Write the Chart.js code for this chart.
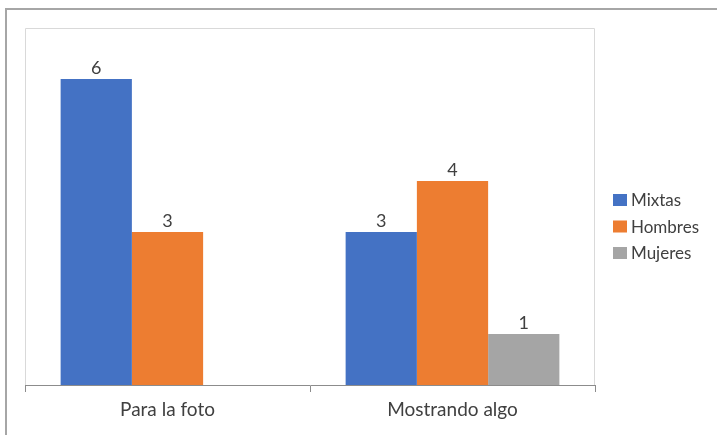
<!DOCTYPE html>
<html>
<head>
<meta charset="utf-8">
<script src="https://cdn.jsdelivr.net/npm/chart.js@4"></script>
<style>
  html, body { margin: 0; padding: 0; background: #fff; }
  #wrap { width: 717px; height: 435px; }
</style>
</head>
<body>
<div id="wrap"><canvas id="c" width="717" height="435"></canvas></div>
<script>
const categories = ['Para la foto', 'Mostrando algo'];
const seriesNames = ['Mixtas', 'Hombres', 'Mujeres'];
const mixtas = [6, 3];
const hombres = [3, 4];
const mujeres = [null, 1];
const colors = ['#4472C4', '#ED7D31', '#A5A5A5'];

const FONT = 'Lato, "Open Sans", sans-serif';
const TEXT = '#404040';

// frame, plot border, data labels and legend
const decor = {
  id: 'decor',
  beforeDraw(chart) {
    const ctx = chart.ctx;
    const a = chart.chartArea;
    ctx.save();
    ctx.strokeStyle = '#a6a6a6';
    ctx.lineWidth = 2;
    ctx.beginPath();
    ctx.moveTo(6, 435);
    ctx.lineTo(6, 9);
    ctx.lineTo(717, 9);
    ctx.stroke();
    ctx.strokeStyle = '#d9d9d9';
    ctx.lineWidth = 1;
    ctx.beginPath();
    ctx.moveTo(a.left + 0.5, a.bottom);
    ctx.lineTo(a.left + 0.5, a.top + 0.5);
    ctx.lineTo(a.right - 0.5, a.top + 0.5);
    ctx.lineTo(a.right - 0.5, a.bottom);
    ctx.stroke();
    ctx.restore();
  },
  afterDatasetsDraw(chart) {
    const ctx = chart.ctx;
    ctx.save();
    ctx.font = '18px ' + FONT;
    ctx.fillStyle = TEXT;
    ctx.textAlign = 'center';
    ctx.textBaseline = 'middle';
    chart.data.datasets.forEach((ds, i) => {
      chart.getDatasetMeta(i).data.forEach((bar, j) => {
        const v = ds.data[j];
        if (v == null) return;
        ctx.fillText(String(v), bar.x, bar.y - 11);
      });
    });
    // legend
    ctx.font = '17px ' + FONT;
    ctx.textAlign = 'left';
    chart.data.datasets.forEach((ds, i) => {
      const y = 200 + i * 26.5;
      ctx.fillStyle = ds.backgroundColor;
      ctx.fillRect(613, y - 6, 14, 12);
      ctx.fillStyle = TEXT;
      ctx.fillText(ds.label, 631, y + 1);
    });
    ctx.restore();
  }
};

new Chart(document.getElementById('c'), {
  type: 'bar',
  data: {
    labels: categories,
    datasets: [
      { label: seriesNames[0], data: mixtas, backgroundColor: colors[0] },
      { label: seriesNames[1], data: hombres, backgroundColor: colors[1] },
      { label: seriesNames[2], data: mujeres, backgroundColor: colors[2] }
    ]
  },
  options: {
    responsive: false,
    animation: false,
    layout: { padding: { left: 25, top: 28, right: 122, bottom: 0 } },
    datasets: { bar: { categoryPercentage: 0.75, barPercentage: 1, borderWidth: 0 } },
    plugins: { legend: { display: false }, tooltip: { enabled: false } },
    scales: {
      x: {
        afterFit(scale) { scale.height = 50; },
        grid: { offset: true, drawOnChartArea: false, tickLength: 7, color: '#8c8c8c' },
        border: { color: '#8c8c8c' },
        ticks: { color: TEXT, font: { family: FONT, size: 19 }, padding: 6 }
      },
      y: { display: false, min: 0, max: 7 }
    }
  },
  plugins: [decor]
});
</script>
</body>
</html>
